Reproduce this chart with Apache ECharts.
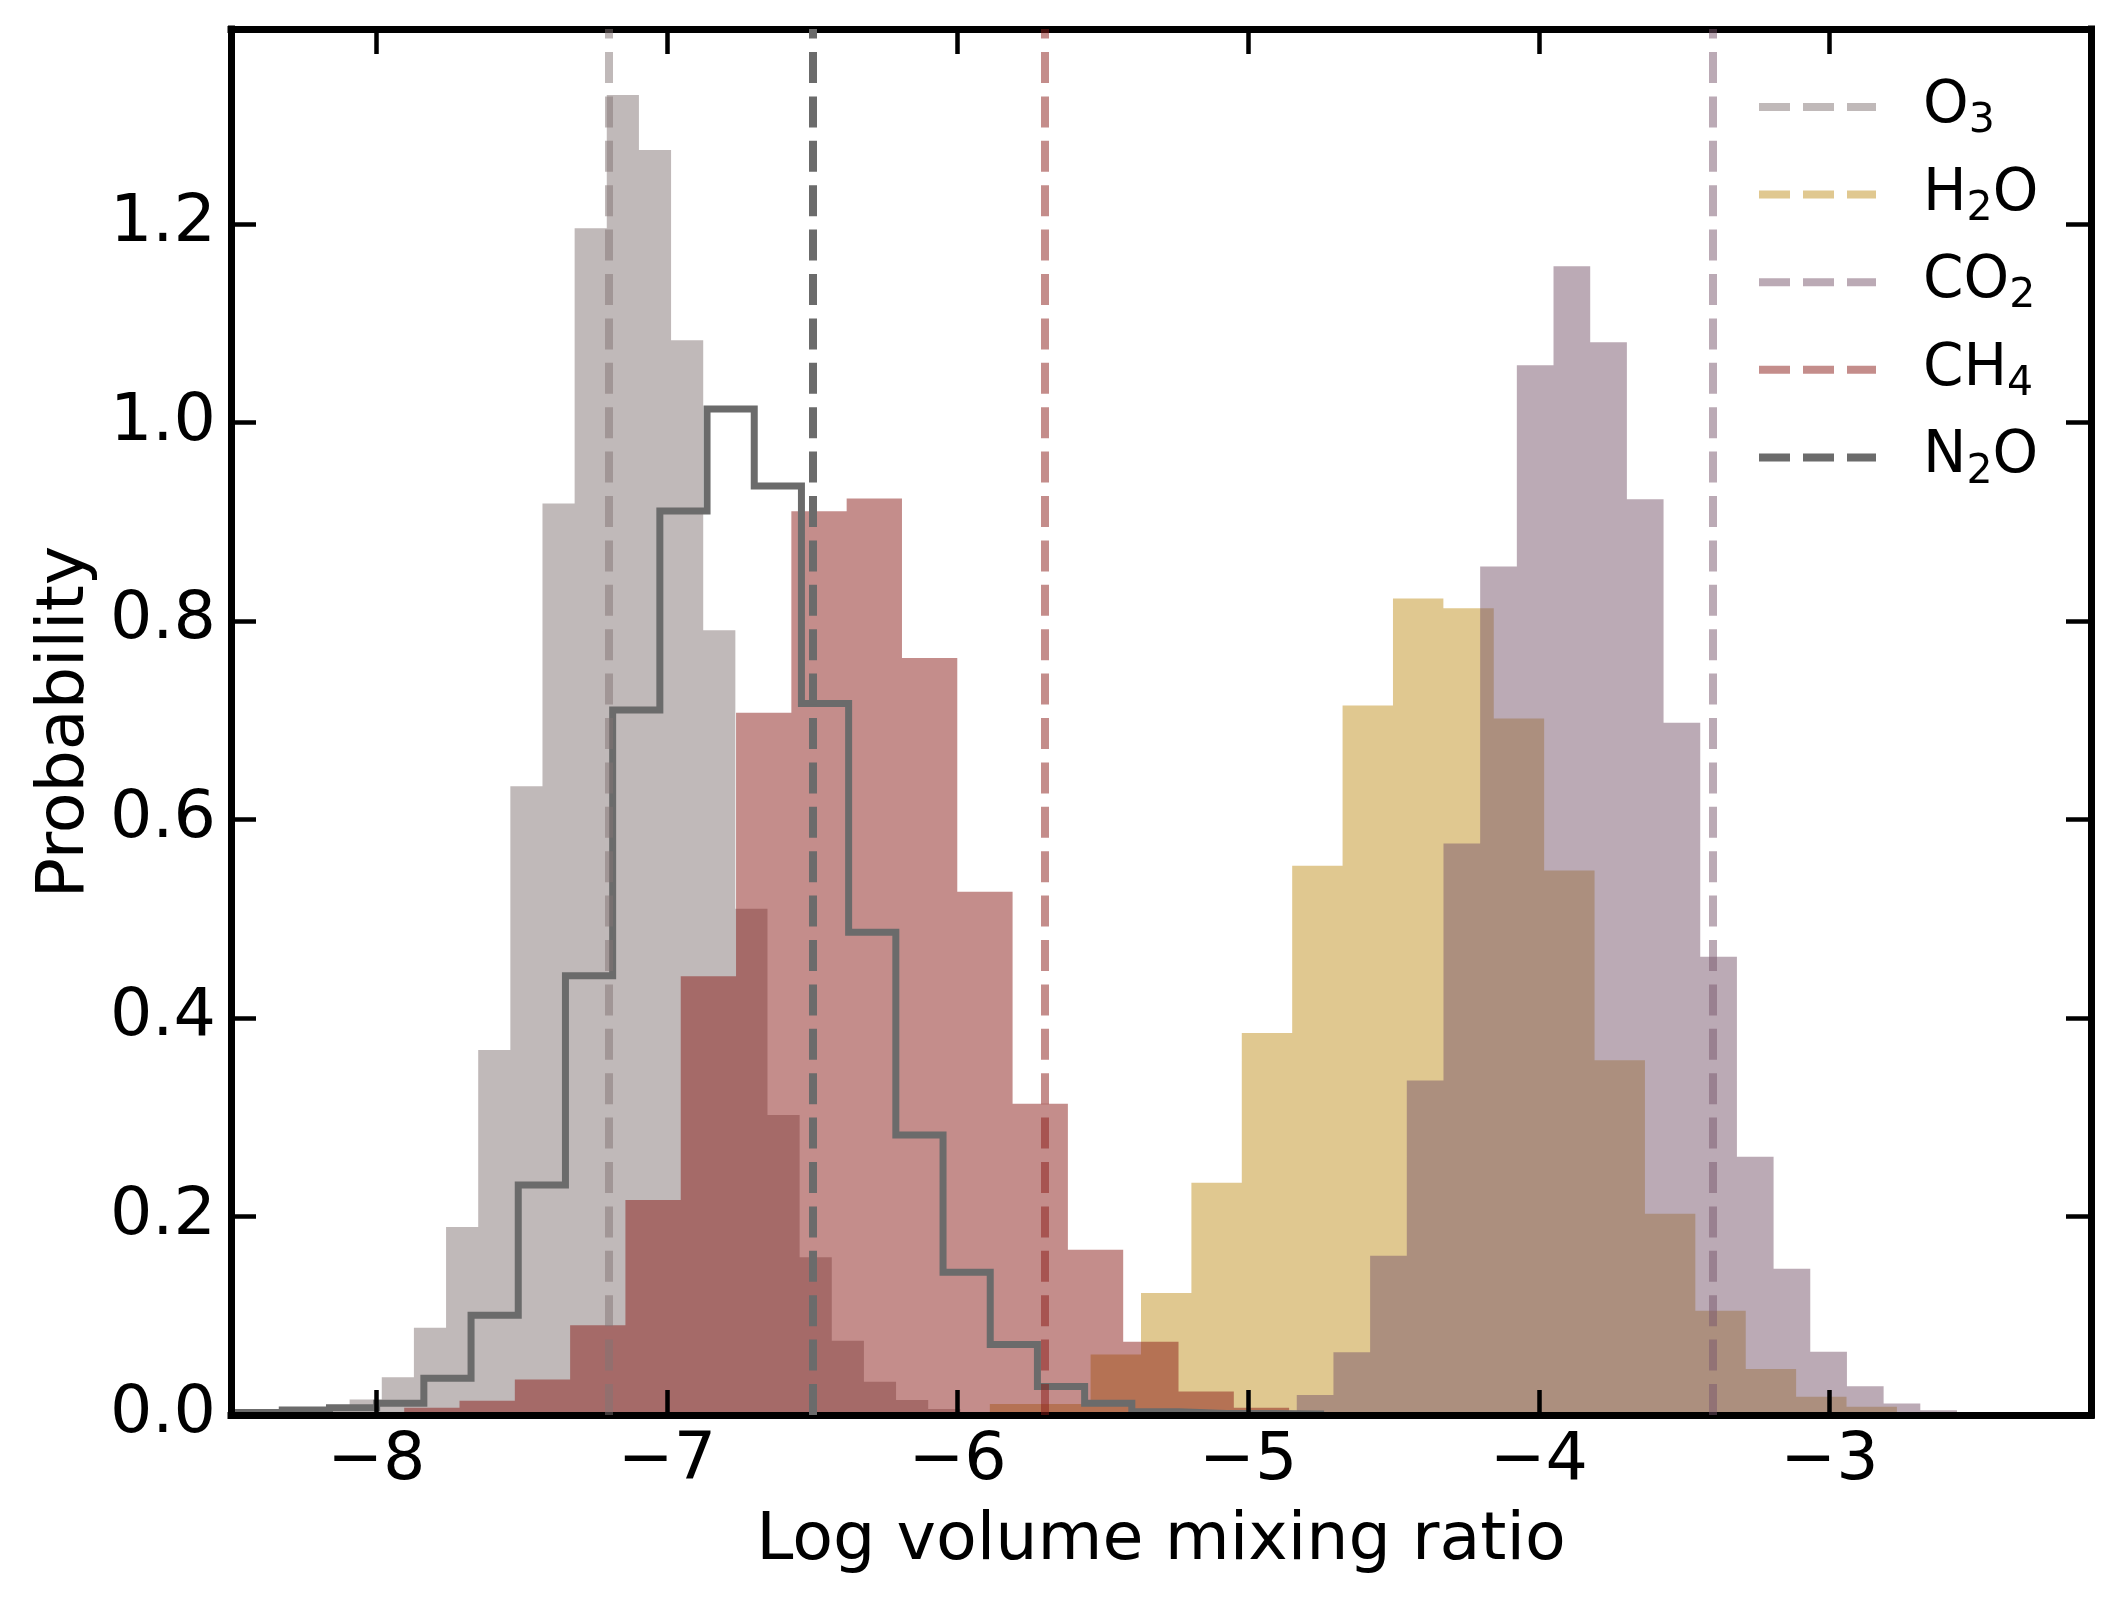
<!DOCTYPE html>
<html>
<head>
<meta charset="utf-8">
<script src="https://cdn.jsdelivr.net/npm/echarts@6/dist/echarts.min.js"></script>
<style>
html,body{margin:0;padding:0;background:#ffffff;}
#chart{width:2121px;height:1605px;}
</style>
</head>
<body>
<div id="chart"></div>
<script>
// ---------------- data ----------------
const gasNames = ['O3', 'H2O', 'CO2', 'CH4', 'N2O'];
const gasRichLabels = ['{f|O}{s|3}', '{f|H}{s|2}{m|O}', '{f|CO}{s|2}', '{f|CH}{s|4}', '{f|N}{s|2}{m|O}'];
const trueValues = [-7.2, null, -3.4, -5.7, -6.5];   // dashed reference lines (H2O not in view)

// histogram bins: first edge, bin width, density per bin
const o3BinStart = -8.313, o3BinWidth = 0.1106;
const o3Density = [0.002, 0.007, 0.0157, 0.0381, 0.088, 0.1895, 0.3678, 0.6334, 0.9185, 1.1958, 1.3299,
                   1.2746, 1.0829, 0.7907, 0.5102, 0.3022, 0.159, 0.0747, 0.0334, 0.0152, 0.006];

const h2oBinStart = -5.889, h2oBinWidth = 0.1734;
const h2oDensity = [0.011, 0.011, 0.0609, 0.1228, 0.2341, 0.385, 0.5535, 0.7148, 0.8227, 0.8128,
                    0.7017, 0.5485, 0.3574, 0.2027, 0.1051, 0.0464, 0.0183, 0.0082];

const co2BinStart = -4.959, co2BinWidth = 0.1262;
const co2Density = [0.004, 0.0201, 0.0633, 0.1604, 0.337, 0.5758, 0.855, 1.0577, 1.1575, 1.081,
                    0.9226, 0.6975, 0.4616, 0.2602, 0.1474, 0.0637, 0.029, 0.0117, 0.0047];

const ch4BinStart = -7.904, ch4BinWidth = 0.1903;
const ch4Density = [0.0072, 0.0143, 0.0357, 0.0904, 0.2166, 0.4421, 0.7076, 0.9105, 0.9235, 0.7628,
                    0.5272, 0.3136, 0.1666, 0.0738, 0.0238, 0.0072];

const n2oBinStart = -8.486, n2oBinWidth = 0.1624;
const n2oDensity = [0.0026, 0.005, 0.0072, 0.0119, 0.0371, 0.1004, 0.2318, 0.4426, 0.7104, 0.9108,
                    1.0135, 0.9361, 0.717, 0.4863, 0.2822, 0.1438, 0.071, 0.0286, 0.0119, 0.0033,
                    0.0015, 0.0015, 0.001];

const xTickValues = [-8, -7, -6, -5, -4, -3];
const yTickValues = [0, 0.2, 0.4, 0.6, 0.8, 1.0, 1.2];
const xRange = [-8.5, -2.1];
const yRange = [0, 1.3965];

// ---------------- styles ----------------
const baseColors = ['#817373', '#c19121', '#77556b', '#891b17', '#6b6b6b'];
const FONT = 'DejaVu Sans';

// ---------------- helpers ----------------
function stepOutline(start, width, dens) {
  const pts = [[start, 0]];
  dens.forEach((v, i) => {
    const a = start + i * width, b = start + (i + 1) * width;
    pts.push([a, v], [b, v]);
  });
  pts.push([start + dens.length * width, 0]);
  return pts;
}
const fmtX = v => (v < 0 ? '\u2212' + Math.abs(v) : String(v));
const fmtY = v => v.toFixed(1);

function truthLine(i, opacity) {
  if (trueValues[i] === null) return undefined;
  return {
    silent: true, animation: false,
    symbol: ['none', 'none'],
    label: { show: false },
    emphasis: { disabled: true },
    lineStyle: { color: baseColors[i], opacity: opacity, width: 8, type: [31, 13.4], cap: 'butt' },
    data: [{ xAxis: trueValues[i] }]
  };
}

const histSpecs = [
  [o3BinStart, o3BinWidth, o3Density],
  [h2oBinStart, h2oBinWidth, h2oDensity],
  [co2BinStart, co2BinWidth, co2Density],
  [ch4BinStart, ch4BinWidth, ch4Density]
];

const series = histSpecs.map((s, i) => ({
  name: gasNames[i],
  type: 'line',
  data: stepOutline(s[0], s[1], s[2]),
  showSymbol: false, symbol: 'none',
  color: baseColors[i],
  lineStyle: { width: 0, opacity: 0 },
  areaStyle: { color: baseColors[i], opacity: 0.5 },
  silent: true, animation: false,
  emphasis: { disabled: true },
  z: 2,
  markLine: truthLine(i, 0.5)
}));

series.push({
  name: gasNames[4],
  type: 'line',
  data: stepOutline(n2oBinStart, n2oBinWidth, n2oDensity),
  showSymbol: false, symbol: 'none',
  color: baseColors[4],
  lineStyle: { width: 7, color: baseColors[4], join: 'miter', cap: 'butt' },
  silent: true, animation: false,
  emphasis: { disabled: true },
  z: 2,
  markLine: truthLine(4, 1)
});

const tickStyle = { show: true, inside: true, length: 25, lineStyle: { color: '#000', width: 4.5 } };
const lineStyleAx = { show: true, onZero: false, lineStyle: { color: '#000', width: 7, cap: 'square' } };
const textBase = { fontFamily: FONT, fontSize: 66.7, color: '#000' };

const option = {
  backgroundColor: '#ffffff',
  animation: false,
  grid: { left: 231, right: 30, top: 29, bottom: 190, containLabel: false },
  legend: {
    orient: 'vertical',
    left: 1759, top: 78,
    padding: 0,
    itemGap: 23.6,
    itemWidth: 117, itemHeight: 8,
    selectedMode: false,
    icon: 'path://M0,0H31V8H0Z M44,0H75V8H44Z M88,0H117V8H88Z',
    data: gasNames.map((n, i) => ({
      name: n,
      itemStyle: { color: baseColors[i], opacity: i < 4 ? 0.5 : 1, borderWidth: 0 }
    })),
    formatter: name => gasRichLabels[gasNames.indexOf(name)],
    textStyle: {
      fontFamily: FONT, fontSize: 58, color: '#000',
      rich: {
        f: { fontFamily: FONT, fontSize: 58, lineHeight: 70, color: '#000', verticalAlign: 'middle', padding: [0, 0, 0, 42] },
        m: { fontFamily: FONT, fontSize: 58, lineHeight: 70, color: '#000', verticalAlign: 'middle' },
        s: { fontFamily: FONT, fontSize: 41, lineHeight: 44, color: '#000', verticalAlign: 'bottom' }
      }
    }
  },
  xAxis: [
    {
      type: 'value', position: 'bottom', min: xRange[0], max: xRange[1], z: 3,
      splitLine: { show: false },
      axisLine: lineStyleAx,
      axisTick: Object.assign({ customValues: xTickValues }, tickStyle),
      axisLabel: Object.assign({ customValues: xTickValues, formatter: fmtX, margin: 13 }, textBase),
      name: 'Log volume mixing ratio', nameLocation: 'middle', nameGap: 93,
      nameTextStyle: textBase
    },
    {
      type: 'value', position: 'top', min: xRange[0], max: xRange[1], z: 3,
      splitLine: { show: false },
      axisLine: lineStyleAx,
      axisTick: Object.assign({ customValues: xTickValues }, tickStyle),
      axisLabel: { show: false }
    }
  ],
  yAxis: [
    {
      type: 'value', position: 'left', min: yRange[0], max: yRange[1], z: 3,
      splitLine: { show: false },
      axisLine: lineStyleAx,
      axisTick: Object.assign({ customValues: yTickValues }, tickStyle),
      axisLabel: Object.assign({ customValues: yTickValues, formatter: fmtY, margin: 15 }, textBase),
      name: 'Probability', nameLocation: 'middle', nameGap: 131,
      nameTextStyle: textBase
    },
    {
      type: 'value', position: 'right', min: yRange[0], max: yRange[1], z: 3,
      splitLine: { show: false },
      axisLine: lineStyleAx,
      axisTick: Object.assign({ customValues: yTickValues }, tickStyle),
      axisLabel: { show: false }
    }
  ],
  series: series
};

const chart = echarts.init(document.getElementById('chart'), null, { renderer: 'canvas', width: 2121, height: 1605 });
chart.setOption(option);
</script>
</body>
</html>
